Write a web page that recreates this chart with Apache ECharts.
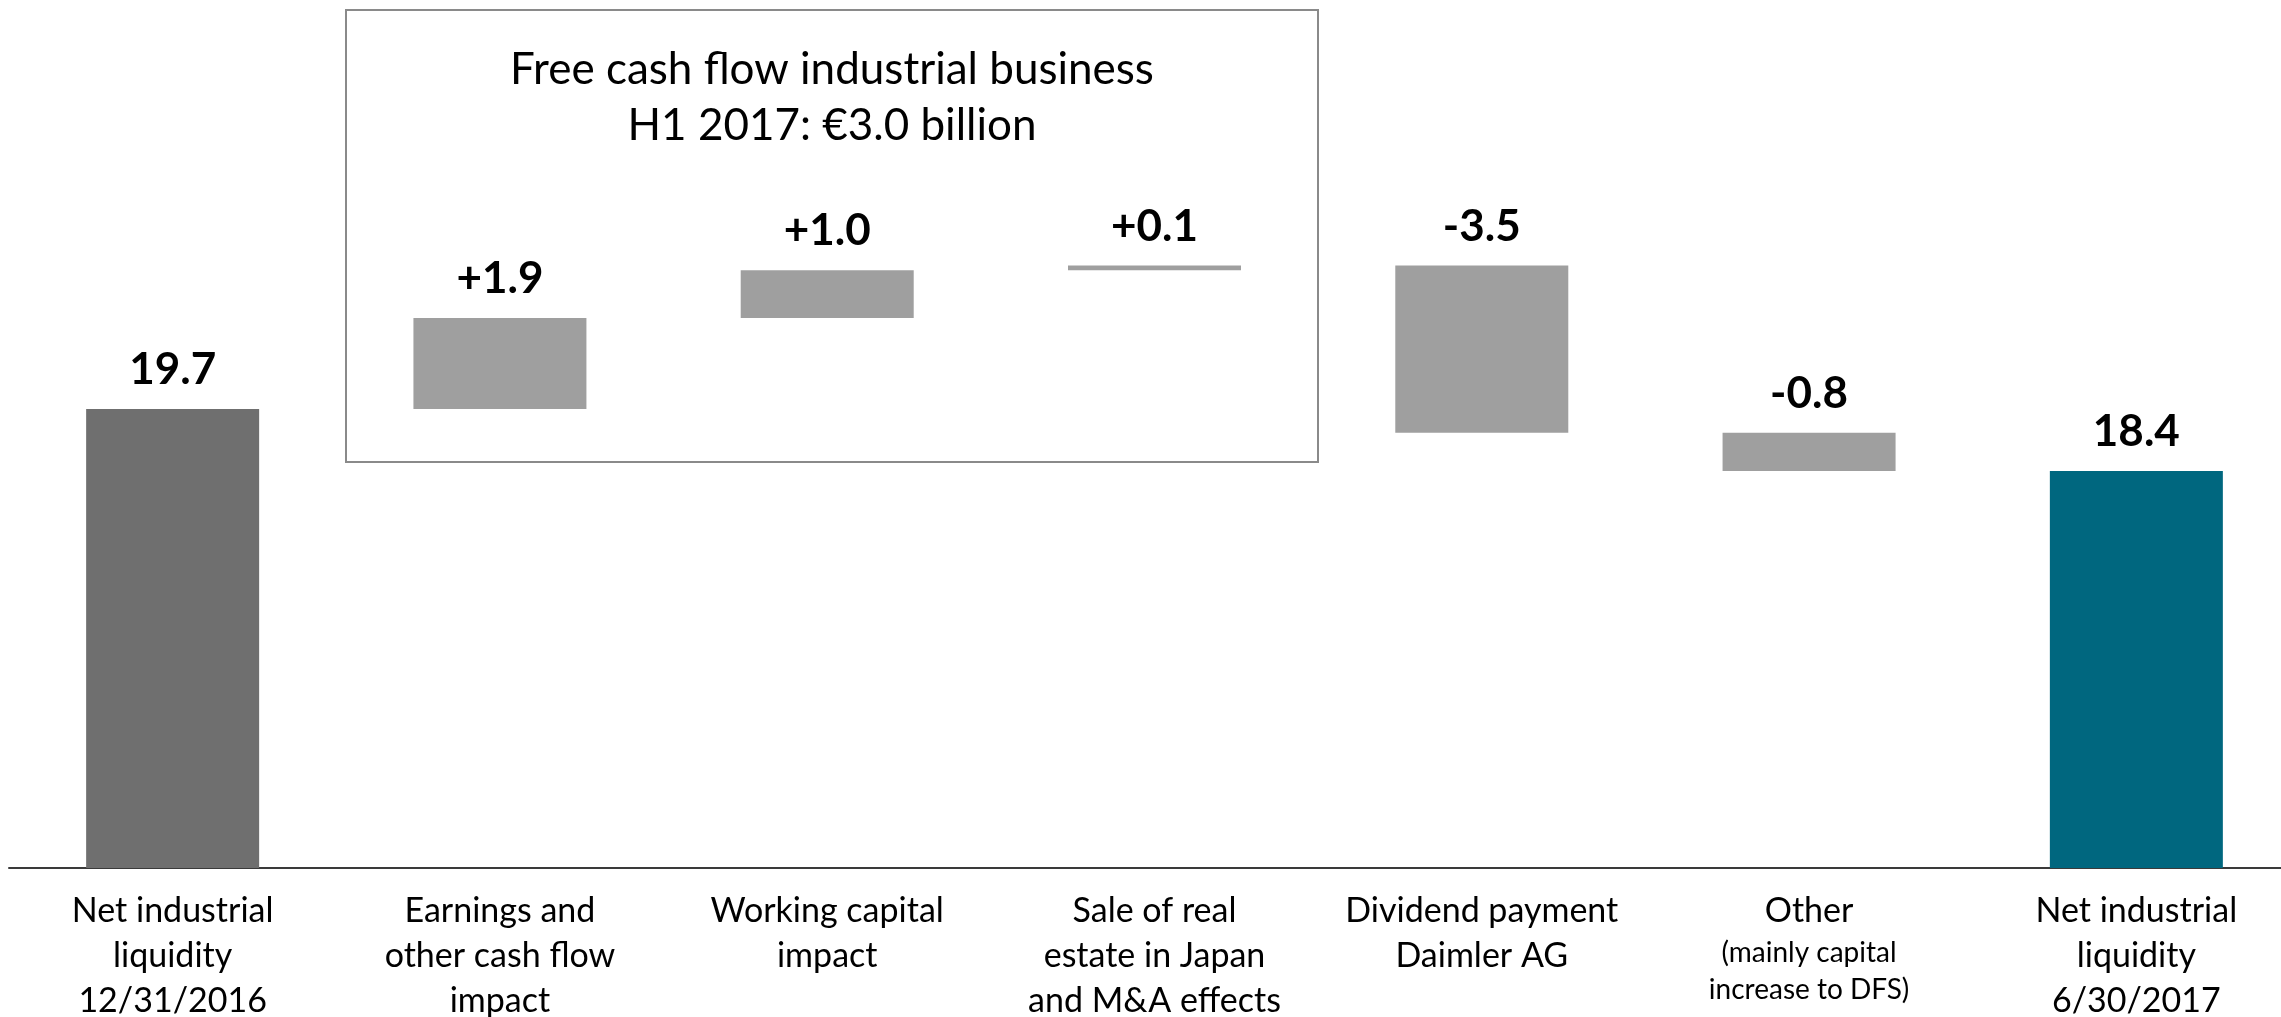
<!DOCTYPE html>
<html>
<head>
<meta charset="utf-8">
<script src="https://cdn.jsdelivr.net/npm/echarts@6/dist/echarts.min.js"></script>
<style>
html,body{margin:0;padding:0;background:#fff;}
#chart{width:2281px;height:1017px;}
</style>
</head>
<body>
<div id="chart"></div>
<script>
// ---- data ----
var categories = [
  "Net industrial\nliquidity\n12/31/2016",
  "Earnings and\nother cash flow\nimpact",
  "Working capital\nimpact",
  "Sale of real\nestate in Japan\nand M&A effects",
  "Dividend payment\nDaimler AG",
  "Other",
  "Net industrial\nliquidity\n6/30/2017"
];
var categoryNotes = ["", "", "", "", "", "(mainly capital\nincrease to DFS)", ""];
var startValue = 19.7;
var deltas = [1.9, 1.0, 0.1, -3.5, -0.8];
var endValue = 18.4;
var boxTitle = ["Free cash flow industrial business", "H1 2017: \u20ac3.0 billion"];

// ---- waterfall layout from data ----
var baseData = [0];
var barData = [startValue];
var labelText = [startValue.toFixed(1)];
var running = startValue;
deltas.forEach(function (d) {
  var next = running + d;
  baseData.push(Math.min(running, next));
  barData.push(Math.abs(d));
  labelText.push((d >= 0 ? "+" : "-") + Math.abs(d).toFixed(1));
  running = next;
});
baseData.push(0);
barData.push(endValue);
labelText.push(endValue.toFixed(1));

var colors = ["#6f6f6f", "#9f9f9f", "#9f9f9f", "#9f9f9f", "#9f9f9f", "#9f9f9f", "#00677f"];

var chart = echarts.init(document.getElementById("chart"), null, {renderer: "canvas"});
var FONT = "Lato";
chart.setOption({
  animation: false,
  backgroundColor: "#ffffff",
  grid: {left: 9, width: 2291, top: 12, height: 856, containLabel: false, outerBoundsMode: "none"},
  xAxis: {
    type: "category",
    data: categories,
    axisLine: {show: true, lineStyle: {color: "#3a3a3a", width: 2}},
    axisTick: {show: false},
    axisLabel: {
      interval: 0,
      margin: 21,
      color: "#000",
      fontFamily: FONT,
      fontSize: 34,
      lineHeight: 45,
      formatter: function (v, i) {
        var note = categoryNotes[i];
        if (!note) return v;
        return "{a|" + v + "}\n" + note.split("\n").map(function (s) { return "{b|" + s + "}"; }).join("\n");
      },
      rich: {
        a: {fontFamily: FONT, fontSize: 34, lineHeight: 45, color: "#000"},
        b: {fontFamily: FONT, fontSize: 28, lineHeight: 37, color: "#000"}
      }
    }
  },
  yAxis: {
    type: "value",
    min: 10.1,
    max: 28,
    show: false,
    splitLine: {show: false}
  },
  series: [
    {
      type: "bar",
      stack: "wf",
      data: baseData,
      barWidth: 173,
      itemStyle: {color: "rgba(0,0,0,0)"},
      emphasis: {disabled: true},
      silent: true
    },
    {
      type: "bar",
      stack: "wf",
      barWidth: 173,
      data: barData.map(function (v, i) {
        return {value: v, itemStyle: {color: colors[i]}};
      }),
      label: {
        show: true,
        position: "top",
        distance: 17,
        fontFamily: FONT,
        fontWeight: "bold",
        fontSize: 44,
        color: "#000",
        formatter: function (p) { return labelText[p.dataIndex]; }
      }
    }
  ],
  graphic: [
    {
      type: "rect",
      shape: {x: 346, y: 10, width: 972, height: 452},
      style: {fill: "none", stroke: "#8a8a8a", lineWidth: 2},
      z: 0, silent: true
    },
    {
      type: "text",
      x: 832, y: 70,
      style: {text: boxTitle[0], fontFamily: FONT, fontSize: 44, fill: "#000", textAlign: "center", textVerticalAlign: "middle"},
      silent: true
    },
    {
      type: "text",
      x: 832, y: 126,
      style: {text: boxTitle[1], fontFamily: FONT, fontSize: 44, fill: "#000", textAlign: "center", textVerticalAlign: "middle"},
      silent: true
    }
  ]
});
</script>
</body>
</html>
